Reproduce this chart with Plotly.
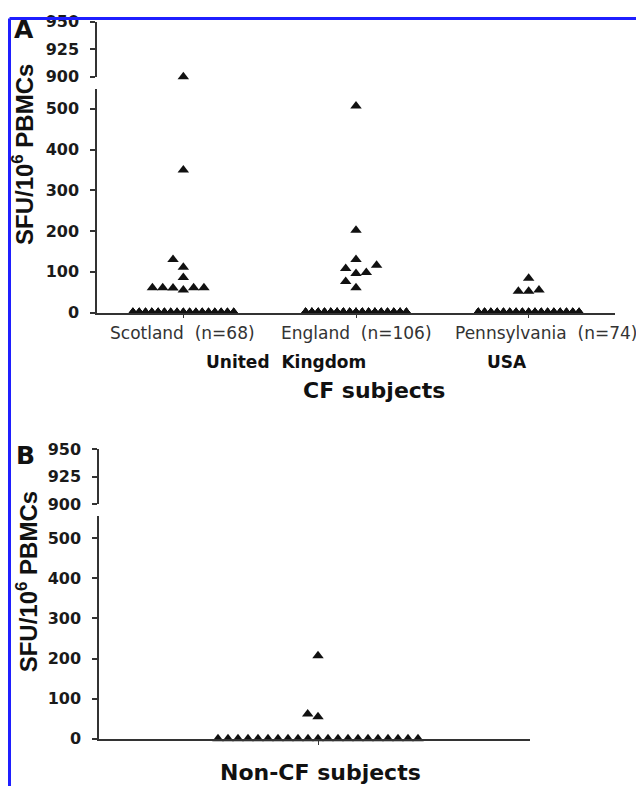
import plotly.graph_objects as go

W, H = 644, 786          # browser window
OFF_X = 8                # default body margin of the html page
FW, FH = W - OFF_X, 792
# measured placement of the page in the photograph (vertical)
Y0, YS = 18.4, 0.973

# ---------------- data ----------------
groups_A = ["Scotland", "England", "Pennsylvania"]
n_A = [68, 106, 74]
scotland_nonzero = [900, 350, 130, 111, 86, 61, 61, 60, 55, 61, 61]
england_nonzero = [507, 202, 130, 116, 108, 98, 96, 76, 61]
pennsylvania_nonzero = [84, 55, 52, 52]
region_labels = ["United\u00a0\u00a0Kingdom", "USA"]
x_title_A = "CF subjects"

nonCF_n = 24
nonCF_nonzero = [207, 62, 55]
x_title_B = "Non-CF subjects"

y_ticks_low = [0, 100, 200, 300, 400, 500]
y_ticks_high = [900, 925, 950]
y_title = "SFU/10<sup>6</sup> PBMCs"

# ---------------- layout helpers (picture pixels -> paper) ----------------
def px_x(p):
    return (p - OFF_X) / FW

def px_y(p):
    f = (p - Y0) / YS
    return 1 - f / FH

AX_COL = "#333333"
FONT = "DejaVu Sans, Liberation Sans, Arial, sans-serif"
FONT_T = "Liberation Sans, Arial, sans-serif"
MARK = dict(symbol="triangle-up", size=10, color="#111111")

SLOT_PX = 10.3
THRESH_PX = 9.6
WIN_PX = 19.2


def swarm(values, py_per_unit, low_max):
    placed = []
    out = []
    for v in sorted(values):
        y = v * py_per_unit if v <= low_max else 10000 + v

        def collides(k):
            return any(pk == k and abs(py - y) < THRESH_PX for pk, py in placed)

        def count(side):
            return sum(1 for pk, py in placed
                       if ((pk < 0) if side < 0 else (pk > 0)) and abs(py - y) <= WIN_PX)

        if not collides(0):
            k = 0
        else:
            m = 1
            k = None
            while k is None:
                order = [-m, m] if count(-1) <= count(1) else [m, -m]
                for kk in order:
                    if not collides(kk):
                        k = kk
                        break
                m += 1
        placed.append((k, y))
        out.append((v, k))
    return out


def group_points(center, nonzero, n_total, py_per_unit, low_max, ppu_x,
                 zero_slots, zero_spacing):
    xs_lo, ys_lo, xs_hi, ys_hi = [], [], [], []
    n_zero = n_total - len(nonzero)
    nslots = min(n_zero, zero_slots)
    for i in range(n_zero):
        s = (i % nslots) - (nslots - 1) / 2
        xs_lo.append(center + s * zero_spacing / ppu_x)
        ys_lo.append(0)
    for v, k in swarm(nonzero, py_per_unit, low_max):
        x = center + k * SLOT_PX / ppu_x
        if v <= low_max:
            xs_lo.append(x); ys_lo.append(v)
        else:
            xs_hi.append(x); ys_hi.append(v)
    return xs_lo, ys_lo, xs_hi, ys_hi


fig = go.Figure()

# ---------------- panel A ----------------
A_x0, A_x1 = 97, 615
A_ppu = (A_x1 - A_x0) / 3.0
A_zero, A_lowtop, A_hi0, A_hi1 = 313, 90, 78, 23
A_lowmax = 549
A_pyu = (A_zero - A_lowtop) / A_lowmax

for i, vals in enumerate([scotland_nonzero, england_nonzero, pennsylvania_nonzero]):
    xl, yl, xh, yh = group_points(i + 1, vals, n_A[i], A_pyu, A_lowmax, A_ppu, 17, 6.3)
    fig.add_trace(go.Scatter(x=xl, y=yl, mode="markers", marker=MARK, hoverinfo="skip",
                             xaxis="x", yaxis="y", cliponaxis=False, showlegend=False))
    if xh:
        fig.add_trace(go.Scatter(x=xh, y=yh, mode="markers", marker=MARK, hoverinfo="skip",
                                 xaxis="x", yaxis="y2", cliponaxis=False, showlegend=False))

# ---------------- panel B ----------------
B_x0, B_x1, B_c = 99, 530, 318
B_ppu = A_ppu
B_zero, B_lowtop, B_hi0, B_hi1 = 738, 516, 504, 449
B_lowmax = 555
B_pyu = (B_zero - B_lowtop) / B_lowmax

xl, yl, xh, yh = group_points(1, nonCF_nonzero, nonCF_n, B_pyu, B_lowmax, B_ppu, 21, 10)
fig.add_trace(go.Scatter(x=xl, y=yl, mode="markers", marker=MARK, hoverinfo="skip",
                         xaxis="x2", yaxis="y3", cliponaxis=False, showlegend=False))
fig.add_trace(go.Scatter(x=xh or [1], y=yh or [925], mode="markers",
                         marker=MARK if xh else dict(size=1, opacity=0),
                         hoverinfo="skip", xaxis="x2", yaxis="y4",
                         cliponaxis=False, showlegend=False))

tickfont = dict(family=FONT, size=16, color="#1a1a1a", weight="bold")

def yax(domain, rng, vals, anchor):
    return dict(domain=domain, range=rng, tickvals=vals, ticktext=[str(v) for v in vals],
                showline=True, linecolor=AX_COL, linewidth=1.5, ticks="outside",
                ticklen=5, tickwidth=1.5, tickcolor=AX_COL, showgrid=False,
                zeroline=False, anchor=anchor, tickfont=tickfont,
                ticklabelstandoff=8, fixedrange=True)

def xax(domain, rng, vals, anchor):
    return dict(domain=domain, range=rng, tickvals=vals, ticktext=[""] * len(vals),
                showticklabels=False,
                showline=True, linecolor=AX_COL, linewidth=1.5, ticks="outside",
                ticklen=4, tickwidth=1.2, tickcolor=AX_COL, showgrid=False,
                zeroline=False, anchor=anchor, fixedrange=True)

fig.update_layout(
    width=FW, height=FH, margin=dict(l=0, r=0, t=0, b=0),
    paper_bgcolor="white", plot_bgcolor="white",
    xaxis=xax([px_x(A_x0), px_x(A_x1)], [0.5, 3.5], [1, 2, 3], "y"),
    yaxis=yax([px_y(A_zero), px_y(A_lowtop)], [0, A_lowmax], y_ticks_low, "x"),
    yaxis2=yax([px_y(A_hi0), px_y(A_hi1)], [900, 950], y_ticks_high, "x"),
    xaxis2=xax([px_x(B_x0), px_x(B_x1)],
               [1 - (B_c - B_x0) / B_ppu, 1 + (B_x1 - B_c) / B_ppu], [1], "y3"),
    yaxis3=yax([px_y(B_zero), px_y(B_lowtop)], [0, B_lowmax], y_ticks_low, "x2"),
    yaxis4=yax([px_y(B_hi0), px_y(B_hi1)], [900, 950], y_ticks_high, "x2"),
)

ann = []
def text(x, y, s, size, bold=False, color="#111111", angle=0, family=FONT):
    ann.append(dict(x=px_x(x), y=px_y(y), xref="paper", yref="paper", text=s,
                    showarrow=False, textangle=angle, xanchor="center", yanchor="middle",
                    font=dict(family=family, size=size, color=color,
                              weight="bold" if bold else "normal")))

text(24, 31, "A", 25, bold=True)
text(25, 456, "B", 25, bold=True)
text(23, 156, y_title, 24, bold=True, angle=-90, family=FONT_T)
text(27, 582, y_title, 24, bold=True, angle=-90, family=FONT_T)

cat_x = [182, 356, 546]
for i, g in enumerate(groups_A):
    text(cat_x[i], 333, f"{g}\u00a0\u00a0(n={n_A[i]})", 17, color="#333333")
text(286, 362, region_labels[0], 17, bold=True)
text(507, 362, region_labels[1], 17, bold=True)
text(374, 391, x_title_A, 22, bold=True)
text(320, 772, x_title_B, 22, bold=True)
fig.update_layout(annotations=ann)

# blue frame
BLUE = "#1f1fff"
fig.add_shape(type="line", xref="paper", yref="paper", x0=px_x(9.5), x1=1.0,
              y0=0.998, y1=0.998, line=dict(color=BLUE, width=3))
fig.add_shape(type="line", xref="paper", yref="paper", x0=px_x(9.5), x1=px_x(9.5),
              y0=0.998, y1=0.0, line=dict(color=BLUE, width=3))

fig.write_html("out.html")
